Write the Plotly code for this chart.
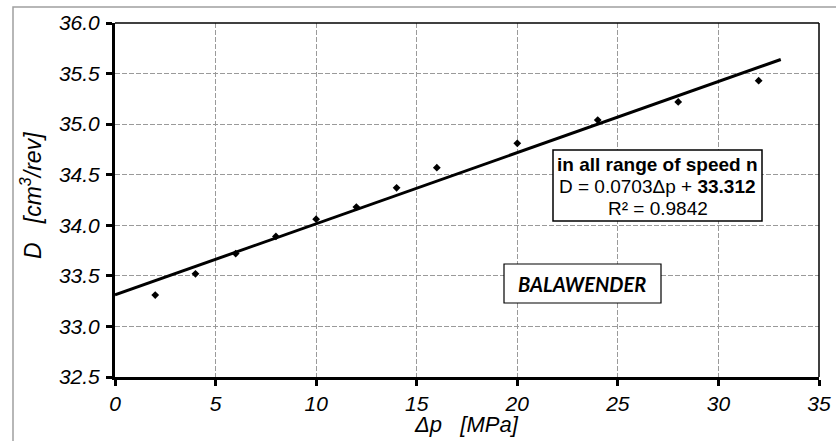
import plotly.graph_objects as go

dp = [2, 4, 6, 8, 10, 12, 14, 16, 20, 24, 28, 32]
D = [33.31, 33.52, 33.72, 33.89, 34.06, 34.18, 34.37, 34.57, 34.81, 35.04, 35.22, 35.43]
slope = 0.0703
intercept = 33.312
trend_x = [0, 33.1]
trend_y = [intercept + slope * x for x in trend_x]

xticks = [0, 5, 10, 15, 20, 25, 30, 35]
yticks = [32.5, 33.0, 33.5, 34.0, 34.5, 35.0, 35.5, 36.0]

FONT = "Liberation Sans, Arial, sans-serif"

fig = go.Figure()
fig.add_trace(go.Scatter(x=trend_x, y=trend_y, mode="lines",
                         line=dict(color="black", width=3), showlegend=False, hoverinfo="skip"))
fig.add_trace(go.Scatter(x=dp, y=D, mode="markers",
                         marker=dict(symbol="diamond", size=6, color="black"), showlegend=False))

L, R, T, B = 115, 17, 23, 64
W, H = 836, 441
pw, ph = W - L - R, H - T - B

axis_common = dict(showgrid=True, gridcolor="#9a9a9a", griddash="5px,2px", gridwidth=1,
                   zeroline=False, ticks="outside", ticklen=6, tickwidth=2.5, tickcolor="black",
                   tickfont=dict(family=FONT, size=21, color="black", style="italic"),
                   showline=True, linecolor="black", linewidth=3, mirror=False,
                   automargin=False)

fig.update_layout(
    width=W, height=H, margin=dict(l=L, r=R, t=T, b=B, autoexpand=False),
    paper_bgcolor="white", plot_bgcolor="white",
    xaxis=dict(range=[0, 35], tickvals=xticks, ticktext=[str(v) for v in xticks], **axis_common),
    yaxis=dict(range=[32.5, 36.0], tickvals=yticks, ticktext=[f"{v:.1f}" for v in yticks],
               ticklabelstandoff=2, **axis_common),
    showlegend=False,
)

# top and right thin plot border
fig.add_shape(type="line", xref="paper", yref="paper", x0=0, x1=1, y0=1, y1=1,
              line=dict(color="black", width=1.5))
fig.add_shape(type="line", xref="paper", yref="paper", x0=1, x1=1, y0=0, y1=1,
              line=dict(color="black", width=1.5))


def px2paper_x(px):
    return (px - L) / pw


def px2paper_y(py):
    return (H - B - py) / ph


def ann(x, y, text, font, **kw):
    fig.add_annotation(xref="paper", yref="paper", x=px2paper_x(x), y=px2paper_y(y),
                       xanchor="center", yanchor="middle", text=text, showarrow=False,
                       font=font, **kw)


# outer gray frame
fig.add_shape(type="rect", xref="paper", yref="paper",
              x0=px2paper_x(13), x1=px2paper_x(850), y0=px2paper_y(7), y1=px2paper_y(460),
              line=dict(color="#a0a0a0", width=1.5), layer="below")

# axis titles
ann(466, 424, "<i>Δp   [MPa]</i>", dict(family=FONT, size=22, color="black"))
ann(31, 196, "<i>D   [cm<sup>3</sup>/rev]</i>", dict(family=FONT, size=23, color="black"),
    textangle=-90)

# equation box
fig.add_shape(type="rect", xref="paper", yref="paper",
              x0=px2paper_x(553), x1=px2paper_x(762), y0=px2paper_y(150), y1=px2paper_y(221),
              line=dict(color="black", width=1.5), fillcolor="white", layer="above")
eq_lines = ["<b>in all range of speed n</b>", "D = 0.0703Δp + <b>33.312</b>", "R² = 0.9842"]
eq_y = [164, 186, 208]
for txt, yy in zip(eq_lines, eq_y):
    ann(657.5, yy, txt, dict(family=FONT, size=19, color="black"))

# BALAWENDER box
fig.add_shape(type="rect", xref="paper", yref="paper",
              x0=px2paper_x(504), x1=px2paper_x(661), y0=px2paper_y(264), y1=px2paper_y(303),
              line=dict(color="black", width=1.2), fillcolor="white", layer="above")
ann(582, 284, "<b><i>BALAWENDER</i></b>", dict(family="Lato, sans-serif", size=20, color="black"))

fig.write_html("out.html", config={"displayModeBar": False},
               post_script="document.body.style.margin='0';document.body.style.overflow='hidden';")
